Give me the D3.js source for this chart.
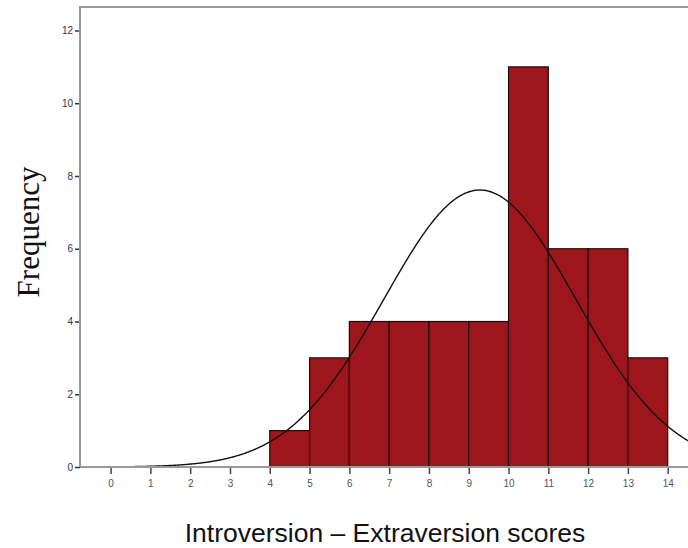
<!DOCTYPE html>
<html lang="en">
<head>
    <meta charset="UTF-8">
    <title>histogram</title>
    <script src="https://cdn.jsdelivr.net/npm/d3@7"></script>
    <style>
        body { margin: 0; background: #fff; }
    </style>
</head>
<body>
<svg width="688" height="548" id="chart"></svg>
<script>
    // bins (lower edge) and counts
    const binStarts = [4, 5, 6, 7, 8, 9, 10, 11, 12, 13];
    const counts = [1, 3, 4, 4, 4, 4, 11, 6, 6, 3];
    const xTicks = [0, 1, 2, 3, 4, 5, 6, 7, 8, 9, 10, 11, 12, 13, 14];
    const yTicks = [0, 2, 4, 6, 8, 10, 12];
    // normal curve parameters (estimated)
    const mean = 9.28;
    const sd = 2.41;
    const n = 46;

    const svg = d3.select("#chart");
    const plotLeft = 80, plotTop = 7, plotBottom = 467, plotRight = 700;

    const x = d3.scaleLinear().domain([0, 14]).range([110.6, 667.7]);
    const y = d3.scaleLinear().domain([0, 12]).range([plotBottom, 30.5]);

    // frame
    svg.append("rect")
        .attr("x", plotLeft).attr("y", plotTop)
        .attr("width", plotRight - plotLeft).attr("height", plotBottom - plotTop)
        .attr("fill", "none")
        .attr("stroke", "#999")
        .attr("stroke-width", 2);

    // bars
    svg.selectAll("rect.bar")
        .data(binStarts)
        .enter().append("rect")
        .attr("class", "bar")
        .attr("x", d => x(d))
        .attr("width", d => x(d + 1) - x(d))
        .attr("y", (d, i) => y(counts[i]))
        .attr("height", (d, i) => y(0) - y(counts[i]))
        .attr("fill", "#9d161b")
        .attr("stroke", "#1e0a0a")
        .attr("stroke-width", 1.2);

    // normal curve
    const pts = d3.range(x.invert(plotLeft), x.invert(plotRight), 0.02).map(v => {
        const z = (v - mean) / sd;
        return [v, n / (sd * Math.sqrt(2 * Math.PI)) * Math.exp(-0.5 * z * z)];
    });
    svg.append("path")
        .datum(pts)
        .attr("d", d3.line().x(d => x(d[0])).y(d => y(d[1])).curve(d3.curveBasis))
        .attr("fill", "none")
        .attr("stroke", "#111")
        .attr("stroke-width", 1.4);

    // y axis
    const gy = svg.append("g")
        .attr("transform", "translate(" + plotLeft + ",0)")
        .call(d3.axisLeft(y).tickValues(yTicks).tickSize(5).tickPadding(2));
    gy.select(".domain").remove();
    gy.selectAll(".tick line").attr("stroke", "#333").attr("stroke-width", 1.5);
    gy.selectAll(".tick text")
        .attr("fill", "#333")
        .style("font", "10px 'Liberation Sans', Arial, sans-serif");

    // x axis
    const gx = svg.append("g")
        .attr("transform", "translate(0," + plotBottom + ")")
        .call(d3.axisBottom(x).tickValues(xTicks).tickSize(7).tickPadding(6));
    gx.select(".domain").remove();
    gx.selectAll(".tick line").attr("stroke", "#444").attr("stroke-width", 1.5);
    gx.selectAll(".tick text")
        .attr("fill", "#555")
        .style("font", "10px 'Liberation Sans', Arial, sans-serif");

    // axis lines on top
    svg.append("line")
        .attr("x1", plotLeft).attr("x2", plotLeft).attr("y1", plotTop).attr("y2", plotBottom)
        .attr("stroke", "#999").attr("stroke-width", 2);
    svg.append("line")
        .attr("x1", plotLeft).attr("x2", plotRight).attr("y1", plotBottom).attr("y2", plotBottom)
        .attr("stroke", "#999").attr("stroke-width", 2);

    // titles
    svg.append("text")
        .attr("transform", "translate(39,232) rotate(-90)")
        .attr("text-anchor", "middle")
        .style("font", "31px 'Liberation Serif', 'Times New Roman', serif")
        .attr("fill", "#111")
        .text("Frequency");

    svg.append("text")
        .attr("x", 385).attr("y", 542)
        .attr("text-anchor", "middle")
        .style("font", "26.5px 'Liberation Sans', Arial, sans-serif")
        .attr("fill", "#111")
        .text("Introversion – Extraversion scores");
</script>
</body>
</html>
